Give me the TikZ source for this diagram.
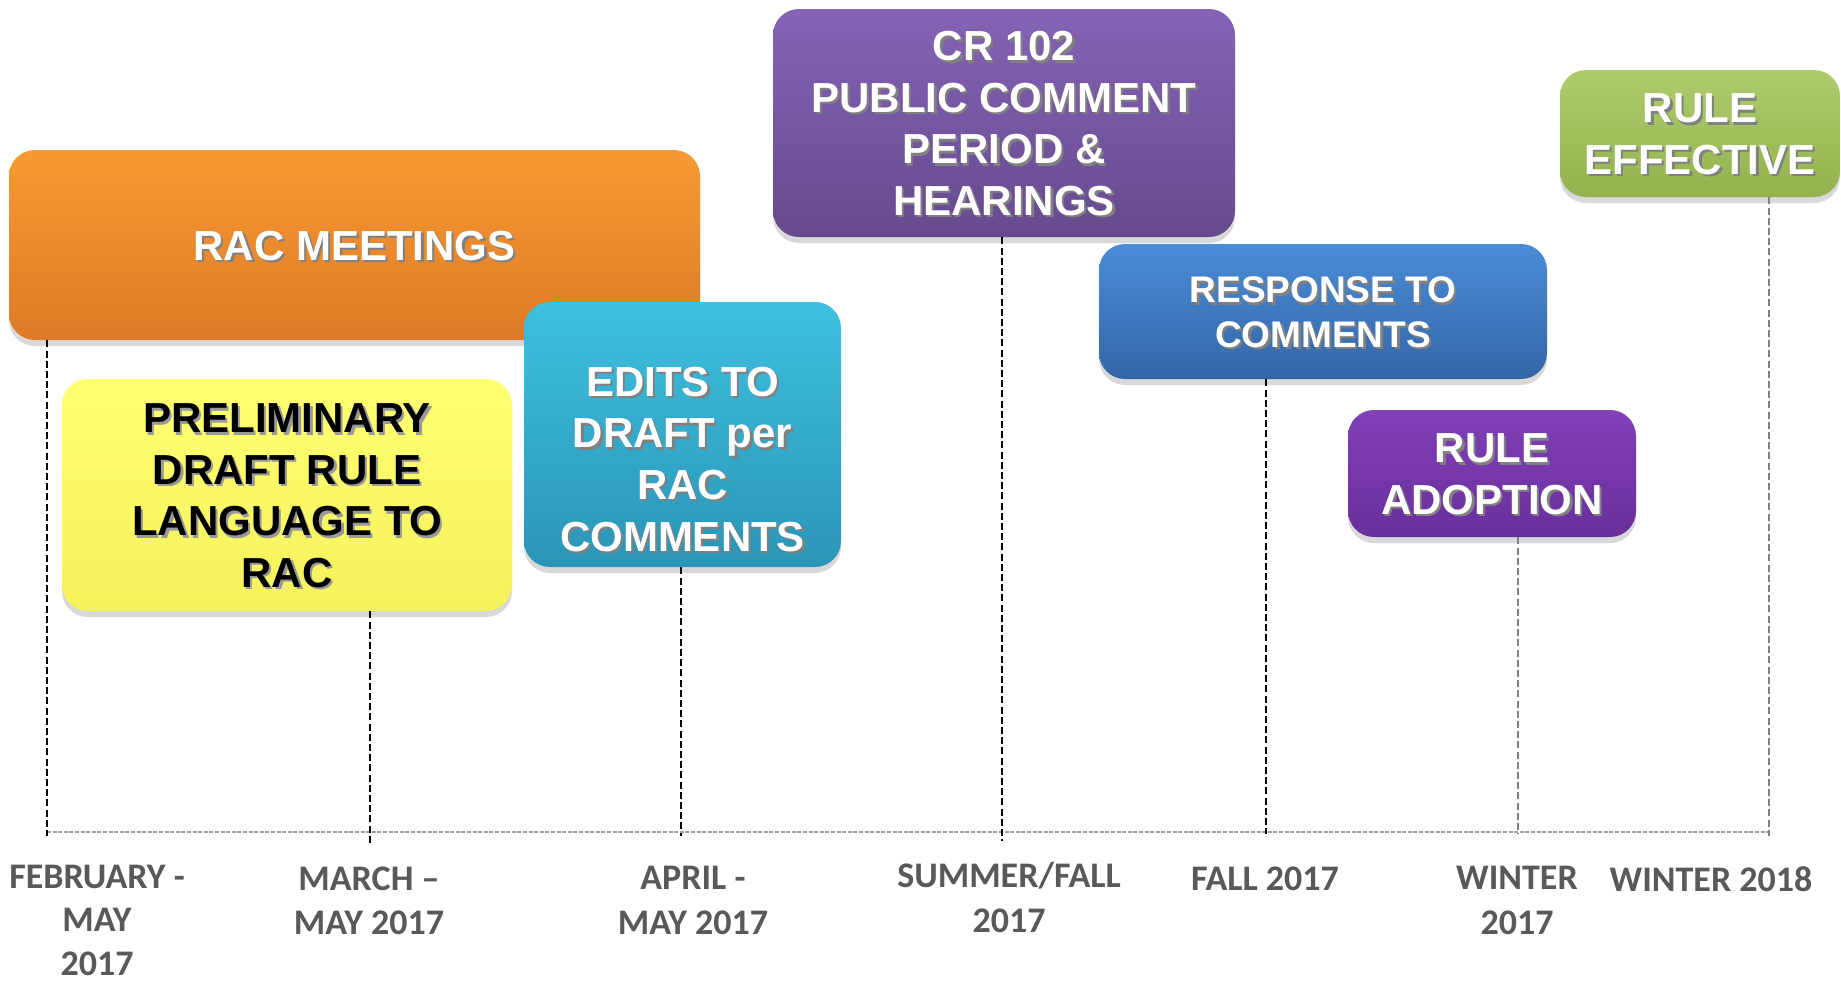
\documentclass[tikz,border=0pt]{standalone}
\usepackage{fontspec}
\setmainfont{Liberation Sans}
\newfontfamily\datefont{Carlito}
\usetikzlibrary{shadows}

\definecolor{racTop}{HTML}{F89A33}
\definecolor{racBot}{HTML}{DE7A27}
\definecolor{draftTop}{HTML}{FFFF72}
\definecolor{draftBot}{HTML}{F6F25C}
\definecolor{editsTop}{HTML}{3EC0E0}
\definecolor{editsBot}{HTML}{2B95B6}
\definecolor{crTop}{HTML}{8563B6}
\definecolor{crBot}{HTML}{664A8D}
\definecolor{respTop}{HTML}{4A8CD8}
\definecolor{respBot}{HTML}{3466A6}
\definecolor{adoptTop}{HTML}{8040B8}
\definecolor{adoptBot}{HTML}{6A2E9C}
\definecolor{effTop}{HTML}{AECC6C}
\definecolor{effBot}{HTML}{93B24E}
\definecolor{datecol}{HTML}{595959}

% text with a small drop shadow: [lift]{shadow colour}{lines}
\newcommand\shtext[3][-3pt]{%
  \raisebox{#1}[\height][\depth]{%
    \rlap{\raisebox{-1.2pt}{\hspace{1.2pt}\color{#2}\begin{tabular}{@{}c@{}}#3\end{tabular}}}%
    \begin{tabular}{@{}c@{}}#3\end{tabular}}}

\tikzset{
  stage/.style={rounded corners=13pt, inner sep=0pt, text=white,
    font=\bfseries\fontsize{21}{25.8}\selectfont,
    drop shadow={shadow xshift=0pt, shadow yshift=-3pt, opacity=.3}},
  boxsize/.style 2 args={minimum width=#1*0.5pt, minimum height=#2*0.5pt},
  datelbl/.style={anchor=north, inner sep=0pt, align=center, text=datecol,
    font=\datefont\bfseries\fontsize{18}{22.3}\selectfont},
  tline/.style={dash pattern=on 3.5pt off 1.6pt, line width=.7pt},
  axisline/.style={gray!75, dash pattern=on 2pt off .8pt, line width=1pt}
}

\begin{document}
\begin{tikzpicture}[x=0.5pt,y=-0.5pt]
		\fill[white] (0,0) rectangle (1841,982);
		\useasboundingbox (0,0) rectangle (1841,982);
		% boxes
		\node[stage, boxsize={691}{190}, top color=racTop, bottom color=racBot] (rac) at (354.5,245) {\shtext{black!50}{RAC MEETINGS}};
		\node[stage, boxsize={450}{232}, top color=draftTop, bottom color=draftBot, text=black] (draft) at (287,495) {\shtext{black!40}{PRELIMINARY\\DRAFT RULE\\LANGUAGE TO\\RAC}};
		\node[stage, boxsize={317}{265}, top color=editsTop, bottom color=editsBot] (edits) at (682.5,434.5) {\shtext[-15pt]{black!50}{EDITS TO\\DRAFT per\\RAC\\COMMENTS}};
		\node[stage, boxsize={462}{228}, top color=crTop, bottom color=crBot] (cr) at (1004,123) {\shtext{black!50}{CR 102\\PUBLIC COMMENT\\PERIOD \&\\HEARINGS}};
		\node[stage, boxsize={448}{135}, top color=respTop, bottom color=respBot, font=\bfseries\fontsize{18.5}{22.3}\selectfont] (resp) at (1323,311.5) {\shtext{black!50}{RESPONSE TO\\COMMENTS}};
		\node[stage, boxsize={288}{127}, top color=adoptTop, bottom color=adoptBot] (adopt) at (1492,473.5) {\shtext{black!50}{RULE\\ADOPTION}};
		\node[stage, boxsize={280}{127}, top color=effTop, bottom color=effBot] (eff) at (1700,133.5) {\shtext{black!50}{RULE\\EFFECTIVE}};
		% time axis
		\coordinate (a0) at (47,832);
		\coordinate (a1) at (1769,832);
		\draw[axisline] (a0)--(a1);
		\coordinate (t1) at (47,836);
		\coordinate (t2) at (370,843);
		\coordinate (t3) at (681,836);
		\coordinate (t4) at (1002,841);
		\coordinate (t5) at (1266,834);
		\coordinate (t6) at (1518,834);
		\coordinate (t7) at (1769,836);
		\draw[tline] (rac.south -| t1)--(t1);
		\draw[tline] (draft.south -| t2)--(t2);
		\draw[tline] (edits.south -| t3)--(t3);
		\draw[tline] (cr.south -| t4)--(t4);
		\draw[tline] (resp.south -| t5)--(t5);
		\draw[tline, gray] (adopt.south -| t6)--(t6);
		\draw[tline, gray] (eff.south -| t7)--(t7);
		% dates
		\node[datelbl, font=\datefont\bfseries\fontsize{18}{21.6}\selectfont] (d1) at (97,865) {FEBRUARY -\\MAY\\2017};
		\node[datelbl] (d2) at (369,866) {MARCH –\\MAY 2017};
		\node[datelbl] (d3) at (693,866) {APRIL -\\MAY 2017};
		\node[datelbl] (d4) at (1009,862) {SUMMER/FALL\\2017};
		\node[datelbl] (d5) at (1265,866) {FALL 2017};
		\node[datelbl] (d6) at (1517,866) {WINTER\\2017};
		\node[datelbl] (d7) at (1711,866) {WINTER 2018};
		\end{tikzpicture}
\end{document}
